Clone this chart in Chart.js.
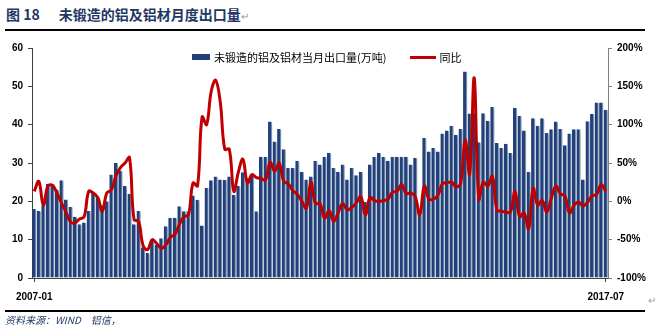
<!DOCTYPE html>
<html lang="zh">
<head>
<meta charset="UTF-8">
<title>未锻造的铝及铝材月度出口量</title>
<script src="https://cdn.jsdelivr.net/npm/chart.js"></script>
<style>
  body {
    margin: 0;
    width: 662px;
    height: 325px;
    position: relative;
    overflow: hidden;
    background: #fff;
    font-family: "Noto Sans CJK SC", sans-serif;
  }
  #chart { position: absolute; left: 0; top: 0; }
  .title {
    position: absolute; left: 6px; top: 4px;
    font-size: 14px; font-weight: bold; color: #1f3864;
    white-space: nowrap; line-height: 20px;
  }
  .title .num { margin-right: 19px; }
  .mark { color: #999; font-weight: normal; font-size: 10px; }
  .rule { position: absolute; left: 5px; width: 640px; height: 1.5px; background: #000; }
  .legend {
    position: absolute; top: 47px; left: 192px;
    font-size: 11px; color: #000; white-space: nowrap; line-height: 16px;
  }
  .legend span { display: inline-block; vertical-align: middle; }
  .sw-bar { width: 18px; height: 6px; background: #21407c; margin-right: 4px; }
  .sw-line { width: 26px; height: 3px; background: #c00000; margin: 0 3px 0 24px; }
  .source {
    position: absolute; left: 5px; top: 312px;
    font-size: 10px; font-style: italic; color: #1f3864; white-space: nowrap;
  }
  .pm { position: absolute; left: 648px; top: 292px; }
</style>
</head>
<body>
  <div class="title"><span class="num">图 18</span>未锻造的铝及铝材月度出口量<span class="mark">↵</span></div>
  <div class="rule" style="top:29px"></div>
  <canvas id="chart" width="662" height="325"></canvas>
  <div class="legend">
    <span class="sw-bar"></span><span>未锻造的铝及铝材当月出口量(万吨)</span><span class="sw-line"></span><span>同比</span>
  </div>
  <span class="mark pm">↵</span>
  <div class="rule" style="top:310px"></div>
  <div class="source">资料来源：WIND　铝信，</div>

<script>
// monthly categories 2007-01 .. 2017-07
const startYear = 2007, endYear = 2017, endMonth = 7;
const months = [];
for (let y = startYear; y <= endYear; y++) {
  for (let m = 1; m <= 12; m++) {
    if (y === endYear && m > endMonth) break;
    months.push(y + '-' + String(m).padStart(2, '0'));
  }
}
const xTickLabels = ['2007-01', '2017-07'];

// 当月出口量（万吨）
const exportVolume = [
  18, 17.5, 19, 24.5, 24.5, 23, 25.5, 20.5, 18.5, 16, 14, 14.5,          // 2007
  17.5, 22.5, 21, 19, 20, 27, 30, 28, 24, 22, 14, 17.5,                  // 2008
  8, 6.5, 10, 8.7, 10.4, 13.5, 15.7, 15.7, 18.7, 17.4, 17.4, 21.5,       // 2009
  20.4, 13.7, 23.5, 25.5, 26.5, 25.7, 25.6, 26.5, 21.7, 24, 27.6, 26,    // 2010
  27, 17.4, 31.6, 31.6, 40.8, 35.6, 38.9, 33.6, 28.7, 28.7, 30.6, 27.7,  // 2011
  25.7, 26.5, 30.6, 29.6, 31.6, 32.7, 28.7, 27.7, 29.6, 25.7, 28.7, 26.8,// 2012
  27.7, 19.8, 29.6, 31.6, 32.7, 31.6, 30.6, 31.6, 31.6, 31.6, 31.6, 29.6,// 2013
  31.4, 16.5, 36.5, 33, 33.9, 33, 37.7, 38.5, 39.7, 37.4, 38.9, 53.9,    // 2014
  42.9, 43, 35.4, 43, 41, 44.6, 35.2, 33.9, 35, 32.6, 44.4, 42.3,        // 2015
  38.5, 27.7, 41.7, 39.7, 41.7, 37.8, 38.8, 40.8, 38.9, 34.6, 37.7, 38.8,// 2016
  38.8, 25.7, 40.9, 42.8, 45.8, 45.8, 43.9                               // 2017
];

// 同比（%）
const yoyChange = [
  13, 26, -5, 20, 21, 11, -2, -14, -27, -28, -23, -20,
  13, 11, 5, -13, 11, 15, 33, 44, 50, 57, -24, -26,
  -58, -63, -50, -55, -61, -57, -47, -43, -30, -20, -18, 24,
  20, 110, 100, 143, 158, 130, 68, 68, 13, 38, 55, 24,
  35, 31, 30, 28, 51, 39, 50, 26, 23, 14, 9, 0,
  -9, 25, -3, -3, -22, -12, -26, -15, -3, -11, -8, -2,
  6, -18, 5, 1, 0, 1, 3, 12, 13, 22, 10, 11,
  6, -18, 20, 3, 3, 8, 23, 24, 25, 19, 23, 80,
  35, 161, 3, 25, 20, 33, -11, -13, -14, -14, 13, -20,
  -15, -36, 17, -5, 1, -14, 4, 20, 10, 7, -15, -5,
  -1, -6, -1, 7, 9, 22, 13
];

const tickFont = { family: 'Liberation Sans, Arial, sans-serif', size: 10, weight: 'bold' };

// soft grey shadow to the right of each bar
const barShadow = {
  id: 'barShadow',
  beforeDatasetDraw(chart, args) {
    if (args.meta.type !== 'bar') return;
    const ctx = chart.ctx;
    ctx.save();
    ctx.shadowColor = 'rgba(0,0,0,0.3)';
    ctx.shadowOffsetX = 3;
    ctx.shadowOffsetY = 1;
    ctx.shadowBlur = 2;
  },
  afterDatasetDraw(chart, args) {
    if (args.meta.type !== 'bar') return;
    chart.ctx.restore();
  }
};

new Chart(document.getElementById('chart'), {
  data: {
    labels: months,
    datasets: [
      {
        type: 'line',
        label: '同比',
        data: yoyChange,
        yAxisID: 'y1',
        borderColor: '#c00000',
        borderWidth: 3,
        pointRadius: 0,
        tension: 0.4,
        order: 0
      },
      {
        type: 'bar',
        label: '未锻造的铝及铝材当月出口量(万吨)',
        data: exportVolume,
        yAxisID: 'y',
        backgroundColor: '#21407c',
        borderColor: '#a9c8ea',
        borderWidth: { left: 0, right: 1, top: 0, bottom: 0 },
        categoryPercentage: 1,
        barPercentage: 0.92,
        order: 1
      }
    ]
  },
  options: {
    responsive: false,
    animation: false,
    devicePixelRatio: 1,
    layout: { padding: { top: 48, left: 0, right: 0, bottom: 0 } },
    plugins: { legend: { display: false }, tooltip: { enabled: false } },
    scales: {
      x: {
        offset: true,
        grid: {
          drawOnChartArea: false,
          offset: false,
          tickLength: 4,
          color: c => (c.index === 0 || c.index === months.length - 1) ? '#404040' : 'rgba(0,0,0,0)'
        },
        border: { color: '#404040' },
        ticks: {
          autoSkip: false,
          maxRotation: 0,
          font: tickFont,
          color: '#000',
          padding: 9,
          callback: (v, i) => i === 0 ? xTickLabels[0] : (i === months.length - 1 ? xTickLabels[1] : '')
        },
        afterFit: s => { s.height = 47; }
      },
      y: {
        position: 'left',
        min: 0, max: 60,
        ticks: { stepSize: 10, font: tickFont, color: '#000', padding: 5 },
        grid: { drawOnChartArea: false, tickLength: 4, color: '#404040' },
        border: { color: '#404040' },
        afterFit: s => { s.width = 32; }
      },
      y1: {
        position: 'right',
        min: -100, max: 200,
        ticks: { stepSize: 50, font: tickFont, color: '#000', padding: 5, callback: v => v + '%' },
        grid: { drawOnChartArea: false, tickLength: 4, color: '#808080' },
        border: { color: '#808080' },
        afterFit: s => { s.width = 54; }
      }
    }
  },
  plugins: [barShadow]
});
</script>
</body>
</html>
